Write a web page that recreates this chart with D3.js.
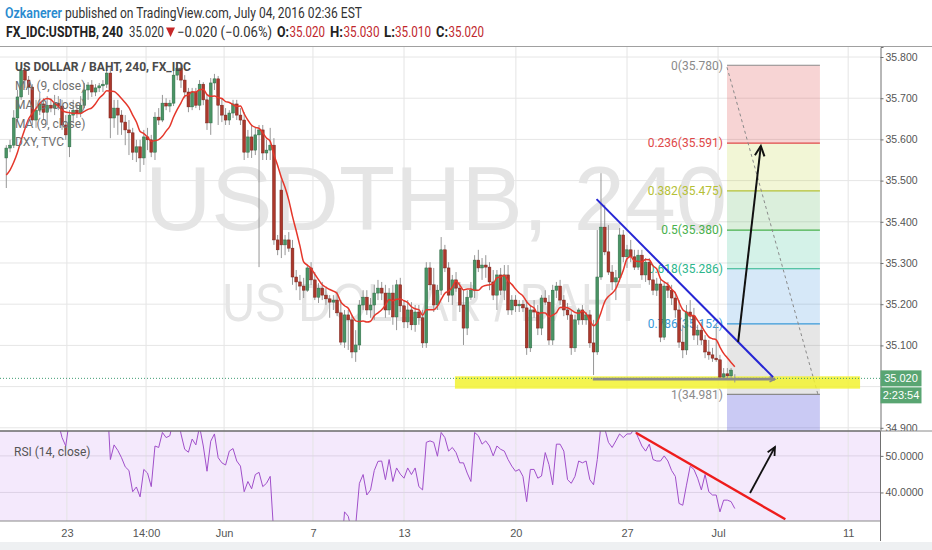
<!DOCTYPE html>
<html><head><meta charset="utf-8">
<script src="https://cdn.jsdelivr.net/npm/d3@7"></script>
<style>
body{margin:0;background:#fff;}
svg{display:block;font-family:Roboto,"Noto Sans",sans-serif;}
</style></head><body>
<svg id="c" width="932" height="550"></svg>
<script>
// ---- DATA (USDTHB, 240 min candles) ----
const opens = [
35.555,35.579,35.586,35.652,35.703,35.768,35.744,35.727,35.647,35.671,
35.686,35.666,35.683,35.676,35.688,35.681,35.635,35.582,35.659,35.671,
35.664,35.683,35.720,35.732,35.715,35.725,35.730,35.734,35.761,35.652,
35.676,35.659,35.642,35.623,35.616,35.569,35.582,35.555,35.606,35.599,
35.569,35.654,35.647,35.688,35.681,35.688,35.756,35.773,35.744,35.715,
35.679,35.715,35.683,35.734,35.696,35.640,35.737,35.747,35.683,35.659,
35.647,35.664,35.686,35.659,35.647,35.569,35.606,35.574,35.611,35.623,
35.567,35.574,35.586,35.356,35.477,35.344,35.356,35.336,35.266,35.254,
35.244,35.234,35.288,35.259,35.217,35.239,35.222,35.213,35.205,35.210,
35.179,35.108,35.174,35.162,35.084,35.101,35.198,35.217,35.186,35.198,
35.227,35.239,35.227,35.186,35.227,35.169,35.247,35.196,35.157,35.186,
35.150,35.181,35.167,35.106,35.288,35.247,35.198,35.234,35.332,35.288,
35.222,35.259,35.239,35.198,35.142,35.217,35.234,35.307,35.288,35.295,
35.290,35.254,35.222,35.271,35.234,35.271,35.186,35.210,35.196,35.200,
35.191,35.094,35.186,35.181,35.142,35.215,35.205,35.113,35.234,35.244,
35.210,35.186,35.174,35.094,35.162,35.186,35.162,35.174,35.106,35.084,
35.266,35.387,35.327,35.278,35.254,35.264,35.368,35.315,35.332,35.315,
35.290,35.319,35.271,35.302,35.259,35.234,35.249,35.120,35.244,35.234,
35.215,35.186,35.108,35.089,35.181,35.171,35.125,35.137,35.113,35.084,
35.077,35.069,35.065,35.023,35.031,35.026,35.020];
const highs = [
35.586,35.599,35.671,35.720,35.781,35.778,35.754,35.734,35.696,35.713,
35.700,35.705,35.700,35.708,35.705,35.696,35.659,35.671,35.696,35.688,
35.705,35.737,35.739,35.744,35.734,35.737,35.744,35.776,35.773,35.696,
35.696,35.671,35.659,35.647,35.628,35.599,35.599,35.623,35.628,35.611,
35.666,35.676,35.708,35.700,35.696,35.781,35.788,35.781,35.756,35.725,
35.725,35.725,35.744,35.739,35.708,35.749,35.759,35.754,35.700,35.676,
35.671,35.696,35.696,35.676,35.666,35.623,35.635,35.628,35.635,35.635,
35.599,35.628,35.603,35.368,35.501,35.368,35.375,35.356,35.283,35.271,
35.264,35.295,35.302,35.278,35.251,35.254,35.239,35.222,35.222,35.230,
35.210,35.186,35.186,35.174,35.137,35.210,35.234,35.234,35.215,35.247,
35.259,35.254,35.247,35.239,35.247,35.259,35.264,35.210,35.210,35.205,
35.198,35.198,35.186,35.302,35.302,35.288,35.247,35.363,35.344,35.302,
35.271,35.278,35.254,35.234,35.234,35.254,35.319,35.332,35.312,35.319,
35.302,35.283,35.283,35.288,35.295,35.295,35.222,35.222,35.210,35.210,
35.210,35.198,35.210,35.198,35.222,35.234,35.222,35.247,35.254,35.259,
35.222,35.203,35.186,35.174,35.191,35.198,35.181,35.186,35.162,35.380,
35.518,35.441,35.392,35.295,35.283,35.385,35.380,35.344,35.356,35.332,
35.332,35.332,35.312,35.312,35.278,35.264,35.264,35.254,35.254,35.247,
35.230,35.210,35.150,35.198,35.210,35.191,35.150,35.157,35.125,35.113,
35.094,35.150,35.077,35.045,35.045,35.045,35.030];
const lows = [
35.482,35.569,35.579,35.642,35.696,35.725,35.708,35.635,35.628,35.659,
35.647,35.635,35.666,35.659,35.671,35.623,35.599,35.557,35.642,35.652,
35.654,35.676,35.696,35.703,35.705,35.715,35.715,35.725,35.603,35.628,
35.611,35.611,35.586,35.562,35.550,35.545,35.521,35.538,35.574,35.557,
35.550,35.635,35.642,35.671,35.666,35.681,35.744,35.725,35.700,35.666,
35.671,35.676,35.671,35.683,35.623,35.611,35.720,35.635,35.642,35.635,
35.635,35.652,35.647,35.635,35.550,35.555,35.555,35.562,35.290,35.550,
35.550,35.550,35.344,35.319,35.312,35.319,35.327,35.247,35.234,35.210,
35.215,35.230,35.247,35.210,35.203,35.210,35.198,35.167,35.186,35.171,
35.101,35.094,35.089,35.069,35.060,35.089,35.186,35.174,35.167,35.162,
35.210,35.210,35.167,35.174,35.150,35.137,35.181,35.142,35.142,35.137,
35.133,35.150,35.094,35.094,35.234,35.181,35.186,35.222,35.278,35.205,
35.198,35.230,35.181,35.101,35.125,35.210,35.215,35.278,35.259,35.264,
35.234,35.210,35.186,35.222,35.210,35.174,35.174,35.181,35.181,35.181,
35.077,35.084,35.167,35.125,35.125,35.198,35.101,35.101,35.215,35.198,
35.171,35.162,35.077,35.084,35.150,35.150,35.150,35.094,35.028,35.077,
35.259,35.319,35.271,35.234,35.210,35.254,35.302,35.288,35.302,35.283,
35.283,35.259,35.254,35.247,35.222,35.220,35.108,35.113,35.215,35.198,
35.167,35.094,35.069,35.077,35.162,35.113,35.101,35.101,35.069,35.065,
35.060,35.060,35.016,35.016,35.016,35.016,35.010];
const closes = [
35.579,35.586,35.652,35.703,35.768,35.744,35.727,35.647,35.671,35.686,
35.666,35.683,35.676,35.688,35.681,35.635,35.611,35.659,35.671,35.664,
35.683,35.720,35.732,35.715,35.725,35.730,35.734,35.761,35.652,35.676,
35.659,35.642,35.623,35.616,35.569,35.582,35.555,35.606,35.599,35.569,
35.654,35.647,35.688,35.681,35.688,35.756,35.773,35.744,35.715,35.679,
35.715,35.683,35.734,35.696,35.640,35.737,35.747,35.683,35.659,35.647,
35.664,35.686,35.659,35.647,35.569,35.606,35.574,35.611,35.623,35.567,
35.574,35.586,35.356,35.332,35.344,35.356,35.336,35.266,35.254,35.244,
35.234,35.288,35.259,35.217,35.239,35.222,35.213,35.205,35.210,35.179,
35.108,35.174,35.162,35.084,35.101,35.198,35.217,35.186,35.198,35.227,
35.239,35.227,35.186,35.227,35.169,35.247,35.196,35.157,35.186,35.150,
35.181,35.167,35.106,35.288,35.247,35.198,35.234,35.332,35.288,35.222,
35.259,35.239,35.198,35.142,35.217,35.234,35.307,35.288,35.295,35.290,
35.254,35.222,35.271,35.234,35.271,35.186,35.210,35.196,35.200,35.191,
35.094,35.186,35.181,35.142,35.215,35.205,35.113,35.234,35.244,35.210,
35.186,35.174,35.094,35.162,35.186,35.162,35.174,35.106,35.084,35.266,
35.387,35.327,35.278,35.254,35.264,35.368,35.315,35.332,35.315,35.290,
35.319,35.271,35.302,35.259,35.234,35.249,35.120,35.244,35.234,35.215,
35.186,35.108,35.089,35.181,35.171,35.125,35.137,35.113,35.084,35.077,
35.069,35.065,35.023,35.031,35.026,35.040,35.020];
// closes before the visible window (needed for MA 9 at the left edge)
const priorCloses = [35.477,35.482,35.489,35.497,35.501,35.511,35.526,35.560];
const rsiValues = [
62,63,65,68,71,67,65,59,61,62,
60,61,60,61,59,55,52.7,60,61,60,
62,65,66,63,64,64,65,68,49,53,
51.5,49.5,47,46,40.2,41.5,38.8,46.3,45.3,41.6,
52.7,52.3,56.4,55,55.5,60,62,56,51.8,51,
54.6,53,58,52.7,45.8,54,56,49.5,48.1,47.5,
51.3,52,48.6,47.2,40.2,43,41,44.9,45.5,41.6,
42.5,44.4,28,26,25.5,26.5,25.5,22,21,20.5,
20,24,22.5,20,22,21.5,21,22,22.5,21,
22,34.7,33.5,29,31,42.5,44.9,39.3,40.7,46,
48.5,48.6,43.5,49,43,46.7,45,43.9,46.7,44.9,
46.7,41.6,40.7,53.7,54.1,53.7,49.9,56.4,55,51.3,
52.3,50.9,48.1,48.1,45.3,43,56.4,55.5,53.2,54.1,
52.7,50,52.7,51.8,51.3,49,47.2,45.8,46.3,44.4,
37.5,46.3,46.3,43.9,44.5,50.9,47.6,42.1,53.2,53.2,
51.3,43.5,42.5,44.4,48.6,48.1,48.6,43.5,42.1,49,
58.5,57.5,53.7,52.3,54.1,56,55,56,56,57.5,
55,52.7,51.3,53.2,49,48.6,48.6,50,48.6,46,
44.4,37,36.5,42,47.2,46.3,43.9,40.7,44.9,40.2,
39.3,39.3,34.7,37.9,37.9,37.5,35.6];
const timeTickIdx = [16.3, 37.6, 58.6, 82.5, 107, 137.1, 167, 191.5, 226.5];
const timeTickLabels = ["23","14:00","Jun","7","13","20","27","Jul","11"];
const priceGrid = [34.9,35.0,35.1,35.2,35.3,35.4,35.5,35.6,35.7,35.8];
const priceTickLabels = [34.9,35.1,35.2,35.3,35.4,35.5,35.6,35.7,35.8];
const rsiTicks = [40,50];
const fibLevels = [0,0.236,0.382,0.5,0.618,0.786,1];
const fibPrices = [35.780,35.591,35.475,35.380,35.286,35.152,34.981];
const fibExtPrice = 34.487;
const fibStartIdx = 193.9, fibEndIdx = 218.9;
const trendBlue = [[158.8,35.455],[206.3,35.023]];
const supportLine = [[157.8,35.018],[206.8,35.018]];
const arrowMain = [[196.9,35.108],[203.0,35.584]];
const rsiTrend = [[169.4,56.34],[209.6,32.66]];
const rsiArrow = [[200.1,39.85],[206.8,52.43]];
const zoneIdx = [120.7,229.7], zonePrice = [34.995,35.025];

// ---- LAYOUT ----
const svg = d3.select('#c');
const paneR = 880, mainT = 47, mainB = 431, rsiT = 431, rsiB = 521;
const x = d3.scaleLinear().domain([0,196]).range([6.3,734.8]);
const y = d3.scaleLinear().domain([34.8922,35.8243]).range([mainB,mainT]);
const ry = d3.scaleLinear().domain([32.2,56.8]).range([rsiB,rsiT]);

const defs = svg.append('defs');
defs.append('clipPath').attr('id','mainClip').append('rect').attr('x',0).attr('y',mainT).attr('width',paneR).attr('height',mainB-mainT);
defs.append('clipPath').attr('id','rsiClip').append('rect').attr('x',0).attr('y',rsiT).attr('width',paneR).attr('height',rsiB-rsiT);
defs.append('clipPath').attr('id','axisClip').append('rect').attr('x',paneR-2).attr('y',mainT).attr('width',60).attr('height',mainB-mainT);

svg.append('rect').attr('width',932).attr('height',550).attr('fill','#fff');
// RSI background
svg.append('rect').attr('x',0).attr('y',rsiT).attr('width',paneR).attr('height',rsiB-rsiT).attr('fill','#f4e9fc');

// grid
const grid = svg.append('g');
grid.selectAll('line.v').data(timeTickIdx).join('line')
  .attr('x1',d=>x(d)).attr('x2',d=>x(d)).attr('y1',mainT).attr('y2',rsiB)
  .attr('stroke','#e4e4e4').attr('stroke-width',1);
grid.selectAll('line.h').data(priceGrid).join('line')
  .attr('x1',0).attr('x2',paneR).attr('y1',d=>y(d)).attr('y2',d=>y(d))
  .attr('stroke','#e6e6e6');
grid.selectAll('line.r').data(rsiTicks).join('line')
  .attr('x1',0).attr('x2',paneR).attr('y1',d=>ry(d)).attr('y2',d=>ry(d))
  .attr('stroke','#ddd3e6');

// watermark
const wm = svg.append('g').attr('clip-path','url(#mainClip)').attr('font-family','"Liberation Sans",Arial,sans-serif').attr('fill','#e5e5e5');
wm.append('text').attr('x',145).attr('y',230).attr('font-size',91).attr('textLength',582).attr('lengthAdjust','spacingAndGlyphs').text('USDTHB, 240');
wm.append('text').attr('x',222).attr('y',321).attr('font-size',54).attr('textLength',420).attr('lengthAdjust','spacingAndGlyphs').text('US DOLLAR / BAHT');

// fibonacci
const fib = svg.append('g').attr('clip-path','url(#mainClip)');
const fibFills = ['rgba(220,60,60,0.22)','rgba(190,210,50,0.2)','rgba(76,175,80,0.2)','rgba(38,190,140,0.2)','rgba(50,140,220,0.2)','rgba(128,128,128,0.2)','rgba(80,80,220,0.3)'];
const fibColors = ['#8a8a8a','#e04848','#b5c036','#48b04c','#2cb68c','#3a9ad9','#8a8a8a'];
const fibBands = fibPrices.map((p,i)=>[p, i<fibPrices.length-1?fibPrices[i+1]:fibExtPrice]);
fib.selectAll('rect').data(fibBands).join('rect')
  .attr('x',x(fibStartIdx)).attr('width',x(fibEndIdx)-x(fibStartIdx))
  .attr('y',d=>y(d[0])).attr('height',d=>y(d[1])-y(d[0]))
  .attr('fill',(d,i)=>fibFills[i]);
fib.selectAll('line').data(fibPrices).join('line')
  .attr('x1',x(fibStartIdx)).attr('x2',x(fibEndIdx)).attr('y1',d=>y(d)).attr('y2',d=>y(d))
  .attr('stroke',(d,i)=>fibColors[i]).attr('stroke-width',1.2);
fib.selectAll('text').data(fibPrices).join('text')
  .attr('x',x(fibStartIdx)-4).attr('y',d=>y(d)).attr('dy','0.36em').attr('text-anchor','end')
  .attr('font-size',12).attr('fill',(d,i)=>fibColors[i])
  .text((d,i)=>`${fibLevels[i]}(${d.toFixed(3)})`);
fib.append('line').attr('x1',x(fibStartIdx)).attr('y1',y(fibPrices[0])+2).attr('x2',x(fibEndIdx)-2).attr('y2',y(fibPrices[6]))
  .attr('stroke','#8a8a8a').attr('stroke-dasharray','3,3').attr('stroke-width',1);

// yellow zone
svg.append('rect').attr('x',x(zoneIdx[0])).attr('width',x(zoneIdx[1])-x(zoneIdx[0]))
  .attr('y',y(zonePrice[1])).attr('height',y(zonePrice[0])-y(zonePrice[1]))
  .attr('fill','#f2f230').attr('opacity',0.85);

// candles
const data = closes.map((c,i)=>({i,o:opens[i],h:highs[i],l:lows[i],c}));
const cg = svg.append('g').attr('clip-path','url(#mainClip)');
cg.selectAll('line').data(data).join('line')
  .attr('x1',d=>x(d.i)).attr('x2',d=>x(d.i)).attr('y1',d=>y(d.h)).attr('y2',d=>y(d.l))
  .attr('stroke','#979797').attr('stroke-width',1);
cg.selectAll('rect').data(data).join('rect')
  .attr('x',d=>x(d.i)-1.4).attr('width',2.8)
  .attr('y',d=>y(Math.max(d.o,d.c))).attr('height',d=>Math.max(1,Math.abs(y(d.o)-y(d.c))))
  .attr('fill',d=>d.c>=d.o?'#4a9465':'#ab382c')
  .attr('stroke',d=>d.c>=d.o?'#2e6a45':'#78221a').attr('stroke-width',0.5);

// MA 9
const allCloses = priorCloses.concat(closes);
const ma = closes.map((c,i)=>d3.mean(allCloses.slice(i,i+9)));
svg.append('path').attr('clip-path','url(#mainClip)').datum(ma)
  .attr('d',d3.line().x((d,i)=>x(i)).y(d=>y(d)).curve(d3.curveMonotoneX))
  .attr('fill','none').attr('stroke','#e5372b').attr('stroke-width',1.5);

// last price dotted line
const last = closes.length-1;
svg.append('line').attr('x1',0).attr('x2',paneR).attr('y1',y(closes[last])).attr('y2',y(closes[last]))
  .attr('stroke','#3f9c73').attr('stroke-dasharray','1,2').attr('stroke-width',1);

// drawings
function arrowHead(g,x1,y1,x2,y2,len,color,w){
  const a=Math.atan2(y2-y1,x2-x1), s=0.45;
  g.append('path').attr('d',`M${x2-len*Math.cos(a-s)},${y2-len*Math.sin(a-s)}L${x2},${y2}L${x2-len*Math.cos(a+s)},${y2-len*Math.sin(a+s)}`)
   .attr('fill','none').attr('stroke',color).attr('stroke-width',w);
}
const dr = svg.append('g');
dr.append('line').attr('x1',x(supportLine[0][0])).attr('y1',y(supportLine[0][1])).attr('x2',x(supportLine[1][0])).attr('y2',y(supportLine[1][1]))
  .attr('stroke','#8a8a8a').attr('stroke-width',2.6);
arrowHead(dr,x(supportLine[0][0]),y(supportLine[0][1]),x(supportLine[1][0]),y(supportLine[1][1]),6,'#8a8a8a',1.5);
dr.append('line').attr('x1',x(trendBlue[0][0])).attr('y1',y(trendBlue[0][1])).attr('x2',x(trendBlue[1][0])).attr('y2',y(trendBlue[1][1]))
  .attr('stroke','#2626d4').attr('stroke-width',2);
dr.append('line').attr('x1',x(arrowMain[0][0])).attr('y1',y(arrowMain[0][1])).attr('x2',x(arrowMain[1][0])).attr('y2',y(arrowMain[1][1]))
  .attr('stroke','#111').attr('stroke-width',2);
arrowHead(dr,x(arrowMain[0][0]),y(arrowMain[0][1]),x(arrowMain[1][0]),y(arrowMain[1][1]),11,'#111',2);

// legend
const lg = svg.append('g').attr('font-size',12);
lg.append('text').attr('x',15).attr('y',71).attr('font-weight',700).attr('fill','#4a4a4a').attr('textLength',176).attr('lengthAdjust','spacingAndGlyphs').text('US DOLLAR / BAHT, 240, FX_IDC');
['MA (9, close)','MA (9, close)','MA (9, close)','DXY, TVC'].forEach((t,i)=>{
  lg.append('text').attr('x',15).attr('y',90+i*18.8).attr('fill','#707070').attr('font-size',12).text(t);
});

// RSI pane
const rg = svg.append('g').attr('clip-path','url(#rsiClip)');
rg.append('path').datum(rsiValues)
  .attr('d',d3.line().x((d,i)=>x(i)).y(d=>ry(d)))
  .attr('fill','none').attr('stroke','#a04fca').attr('stroke-width',1);
rg.append('line').attr('x1',x(rsiTrend[0][0])).attr('y1',ry(rsiTrend[0][1])).attr('x2',x(rsiTrend[1][0])).attr('y2',ry(rsiTrend[1][1]))
  .attr('stroke','#ee1c1c').attr('stroke-width',2.4);
rg.append('line').attr('x1',x(rsiArrow[0][0])).attr('y1',ry(rsiArrow[0][1])).attr('x2',x(rsiArrow[1][0])).attr('y2',ry(rsiArrow[1][1]))
  .attr('stroke','#111').attr('stroke-width',1.8);
arrowHead(rg,x(rsiArrow[0][0]),ry(rsiArrow[0][1]),x(rsiArrow[1][0]),ry(rsiArrow[1][1]),9,'#111',1.8);
svg.append('text').attr('x',14).attr('y',456).attr('font-size',12).attr('fill','#555').text('RSI (14, close)');

// pane borders
svg.append('line').attr('x1',0).attr('x2',932).attr('y1',mainT-0.5).attr('y2',mainT-0.5).attr('stroke','#a0a0a0');
svg.append('line').attr('x1',0).attr('x2',paneR).attr('y1',rsiT).attr('y2',rsiT).attr('stroke','#6a6a6a').attr('stroke-width',1.5);
svg.append('line').attr('x1',0).attr('x2',paneR).attr('y1',rsiB).attr('y2',rsiB).attr('stroke','#8a8a8a');

// price axis (clipped to the main pane)
const pa = svg.append('g').attr('clip-path','url(#axisClip)').append('g').attr('transform',`translate(${paneR+0.5},0)`)
  .call(d3.axisRight(y).tickValues(priceTickLabels).tickFormat(d3.format('.3f')).tickSize(3).tickPadding(2));
pa.select('.domain').attr('stroke','#707070');
pa.selectAll('.tick line').attr('stroke','#707070');
pa.selectAll('text').attr('font-family','"Liberation Sans",Arial,sans-serif').attr('font-size',10.5).attr('fill','#555');
svg.append('line').attr('x1',paneR+0.5).attr('x2',paneR+0.5).attr('y1',rsiT).attr('y2',rsiB+20).attr('stroke','#707070');
svg.append('line').attr('x1',paneR).attr('x2',932).attr('y1',rsiT).attr('y2',rsiT).attr('stroke','#8a8a8a');
const ra = svg.append('g').attr('transform',`translate(${paneR+0.5},0)`)
  .call(d3.axisRight(ry).tickValues(rsiTicks).tickFormat(d3.format('.4f')).tickSize(3).tickPadding(2));
ra.select('.domain').remove();
ra.selectAll('.tick line').attr('stroke','#707070');
ra.selectAll('text').attr('font-family','"Liberation Sans",Arial,sans-serif').attr('font-size',10.5).attr('fill','#555');

// last price label + countdown
const ly = y(closes[last]);
svg.append('rect').attr('x',paneR+0.5).attr('y',ly-8).attr('width',41).attr('height',16).attr('fill','#59a572');
svg.append('text').attr('x',paneR+21).attr('y',ly).attr('dy','0.35em').attr('text-anchor','middle').attr('font-size',11).attr('fill','#fff').attr('font-family','"Liberation Sans",Arial,sans-serif').text(closes[last].toFixed(3));
svg.append('rect').attr('x',paneR+0.5).attr('y',ly+9).attr('width',41).attr('height',16).attr('fill','#59a572');
svg.append('text').attr('x',paneR+21).attr('y',ly+17).attr('dy','0.35em').attr('text-anchor','middle').attr('font-size',11).attr('fill','#fff').attr('font-family','"Liberation Sans",Arial,sans-serif').text('2:23:54');

// time axis
const ta = svg.append('g').attr('transform',`translate(0,${rsiB})`)
  .call(d3.axisBottom(x).tickValues(timeTickIdx).tickFormat((d,i)=>timeTickLabels[i]).tickSize(0).tickPadding(8));
ta.select('.domain').remove();
ta.selectAll('text').attr('font-family','"Liberation Sans",Arial,sans-serif').attr('font-size',11).attr('fill','#555');
svg.append('rect').attr('x',0).attr('y',542).attr('width',932).attr('height',8).attr('fill','#eef0f2');

// header
const hd = svg.append('g').attr('font-size',14);
hd.append('text').attr('x',5).attr('y',18).attr('fill','#2a8bd0').attr('font-weight',600).attr('textLength',57).attr('lengthAdjust','spacingAndGlyphs').text('Ozkanerer');
hd.append('text').attr('x',65).attr('y',18).attr('fill','#333').attr('textLength',297).attr('lengthAdjust','spacingAndGlyphs').text('published on TradingView.com, July 04, 2016 02:36 EST');
const chg = closes[last]-closes[last-1];
const pct = chg/closes[last-1]*100;
const fmtS = v=>(v<0?'\u2212':'+')+Math.abs(v).toFixed(3);
const seg = [
  {t:'FX_IDC:USDTHB, 240',x:6,w:117,b:true,c:'#222'},
  {t:closes[last].toFixed(3),x:129,w:35,c:'#333'},
  {t:`${fmtS(chg)} (${pct<0?'\u2212':'+'}${Math.abs(pct).toFixed(2)}%)`,x:177,w:95,c:'#333'},
  {t:'O:',x:277,w:12,b:true,c:'#222'},{t:opens[last].toFixed(3),x:289.5,w:35.5,c:'#c0262c'},
  {t:'H:',x:330,w:13,b:true,c:'#222'},{t:highs[last].toFixed(3),x:343.5,w:36,c:'#c0262c'},
  {t:'L:',x:384,w:11,b:true,c:'#222'},{t:lows[last].toFixed(3),x:395,w:36,c:'#c0262c'},
  {t:'C:',x:436,w:12,b:true,c:'#222'},{t:closes[last].toFixed(3),x:448.5,w:35.5,c:'#c0262c'}
];
seg.forEach(s=>{
  hd.append('text').attr('x',s.x).attr('y',37).attr('fill',s.c).attr('font-weight',s.b?700:400)
    .attr('textLength',s.w).attr('lengthAdjust','spacingAndGlyphs').text(s.t);
});
hd.append('path').attr('d','M166,27.5L175,27.5L170.5,37Z').attr('fill','#c62828');
</script>
</body></html>
